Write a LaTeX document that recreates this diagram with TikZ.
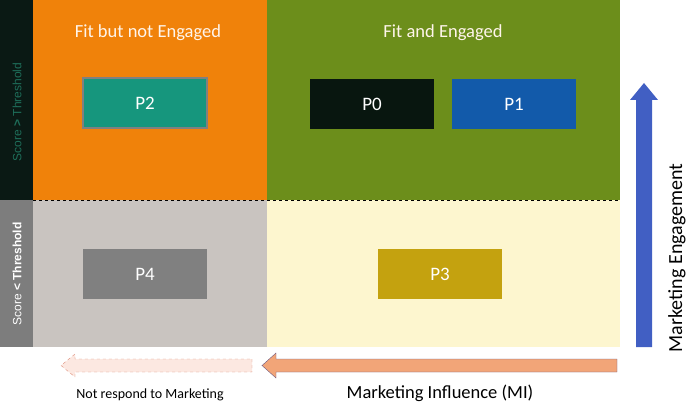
\documentclass[tikz,border=0pt]{standalone}
\usepackage{fontspec}
\setmainfont{Carlito}
\newfontfamily\arialf{Liberation Sans}
\definecolor{cdark}{RGB}{10,25,20}
\definecolor{cgrayL}{RGB}{125,125,125}
\definecolor{corange}{RGB}{240,130,10}
\definecolor{cgreen}{RGB}{108,142,27}
\definecolor{cgrayq}{RGB}{201,196,192}
\definecolor{cyel}{RGB}{253,246,207}
\definecolor{cteal}{RGB}{22,150,125}
\definecolor{ctealt}{RGB}{30,110,90}
\definecolor{cp0}{RGB}{8,22,15}
\definecolor{cp1}{RGB}{18,90,170}
\definecolor{cp4}{RGB}{128,128,128}
\definecolor{cp3}{RGB}{196,162,15}
\definecolor{cblue}{RGB}{65,95,195}
\definecolor{carrE}{RGB}{110,90,130}
\definecolor{carrF}{RGB}{242,165,120}
\definecolor{cdashE}{RGB}{220,140,120}
\definecolor{cdashF}{RGB}{252,232,225}
\begin{document}
\begin{tikzpicture}[x=1pt,y=-1pt,
  pbox/.style={minimum width=124pt,minimum height=50pt,inner sep=0pt,font=\fontsize{19}{19}\selectfont,text=white},
  title/.style={font=\fontsize{18.5}{18.5}\selectfont,text={white!92!orange}}]
\useasboundingbox (0,0) rectangle (700,409);
\fill[cdark] (0,0) rectangle (33,200);
\fill[cgrayL] (0,200) rectangle (33,347);
\fill[corange] (33,0) rectangle (267,200);
\fill[cgreen] (267,0) rectangle (620,200);
\fill[cgrayq] (33,200) rectangle (267,347);
\fill[cyel] (267,200) rectangle (620,347);
\draw[dashed,thick] (33,200) -- (620,200);
\node[rotate=90,font=\fontsize{12}{12}\selectfont\arialf,text=ctealt] (sa) at (17,112) {Score \textbf{>} Threshold};
\node[rotate=90,font=\fontsize{12}{12}\selectfont\arialf,text=white] (sb) at (17,274) {Score \textbf{< Threshold}};
\node[title] (t1) at (148,33) {Fit but not Engaged};
\node[title] (t2) at (443,33) {Fit and Engaged};
\node[pbox,fill=cteal,draw=gray,line width=1.5pt] (p2) at (145,103) {P2};
\node[pbox,fill=cp0] (p0) at (372,104) {P0};
\node[pbox,fill=cp1] (p1) at (514,104) {P1};
\node[pbox,fill=cp4] (p4) at (145,274) {P4};
\node[pbox,fill=cp3] (p3) at (440,274) {P3};
\fill[cblue] (636,347) -- (652,347) -- (652,100) -- (658,100) -- (644,83) -- (630,100) -- (636,100) -- cycle;
\node[rotate=90,font=\fontsize{20}{20}\selectfont] (me) at (677,258) {Marketing Engagement};
\draw[carrE,fill=carrF] (617,359) -- (617,372) -- (276,372) -- (276,378) -- (262,365.5) -- (276,353) -- (276,359) -- cycle;
\draw[dashed,cdashE,fill=cdashF] (252,359) -- (252,372) -- (75,372) -- (75,377) -- (61,365.5) -- (75,354) -- (75,359) -- cycle;
\node[font=\fontsize{18.5}{18.5}\selectfont] (mi) at (440,393) {Marketing Influence (MI)};
\node[font=\fontsize{14}{14}\selectfont] (nr) at (150,395) {Not respond to Marketing};
\end{tikzpicture}
\end{document}
